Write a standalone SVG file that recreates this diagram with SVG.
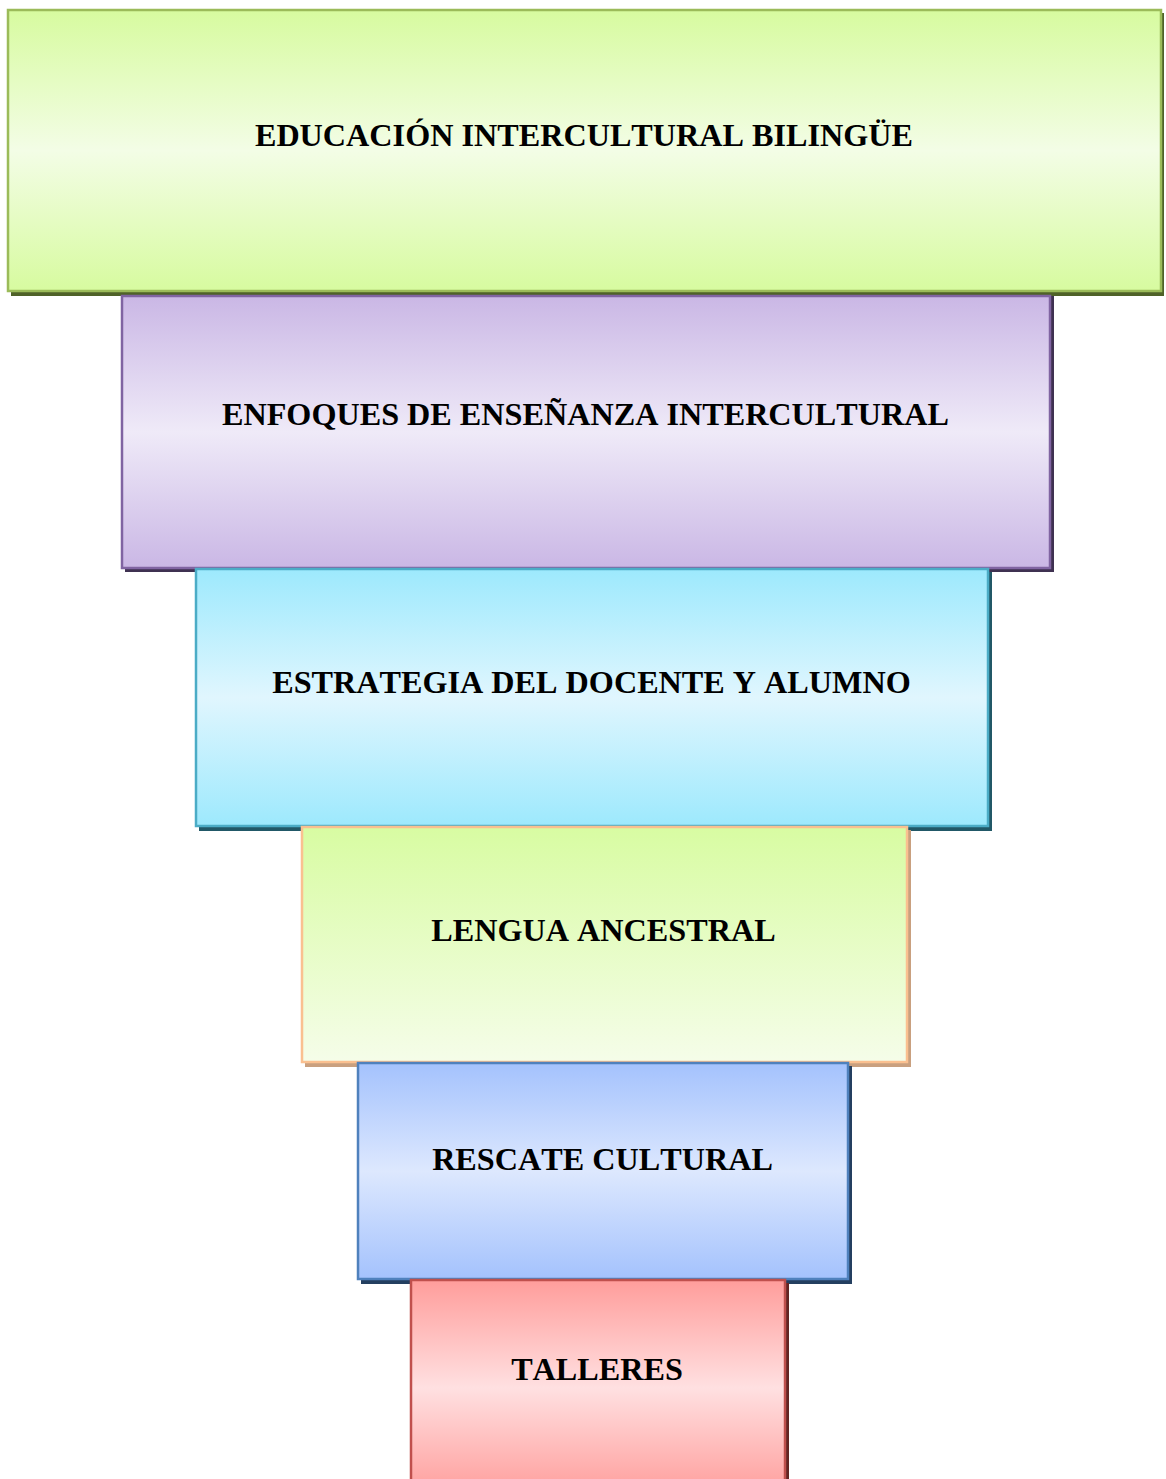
<svg xmlns="http://www.w3.org/2000/svg" width="1166" height="1479" viewBox="0 0 1166 1479">
<style>
.t{font-family:"Liberation Serif","Times New Roman",serif;font-weight:bold;font-size:32.2px;fill:#000;text-anchor:middle;font-kerning:none}
.b{stroke-width:2.5}
</style>
<defs>
<linearGradient id="g1" x1="0" y1="0" x2="0" y2="1"><stop offset="0" stop-color="#d7fb9f"/><stop offset="0.5" stop-color="#f3fde6"/><stop offset="1" stop-color="#d7fb9f"/></linearGradient>
<linearGradient id="g2" x1="0" y1="0" x2="0" y2="1"><stop offset="0" stop-color="#cab7e5"/><stop offset="0.5" stop-color="#efeaf8"/><stop offset="1" stop-color="#cab7e5"/></linearGradient>
<linearGradient id="g3" x1="0" y1="0" x2="0" y2="1"><stop offset="0" stop-color="#9de9fd"/><stop offset="0.5" stop-color="#e0f6fe"/><stop offset="1" stop-color="#9de9fd"/></linearGradient>
<linearGradient id="g4" x1="0" y1="0" x2="0" y2="1"><stop offset="0" stop-color="#d8fca2"/><stop offset="1" stop-color="#f5fde9"/></linearGradient>
<linearGradient id="g5" x1="0" y1="0" x2="0" y2="1"><stop offset="0" stop-color="#a4c2fd"/><stop offset="0.5" stop-color="#dde8fe"/><stop offset="1" stop-color="#a4c2fd"/></linearGradient>
<linearGradient id="g6" x1="0" y1="0" x2="0" y2="1"><stop offset="0" stop-color="#ff9d9b"/><stop offset="0.5" stop-color="#ffe0e1"/><stop offset="1" stop-color="#ff9d9b"/></linearGradient>
</defs>
<g id="connectors"></g>
<g id="node1">
<rect x="11" y="13" width="1153" height="283" fill="#4f6228"/>
<rect class="b" x="8" y="10" width="1153" height="281" fill="url(#g1)" stroke="#9bbb59"/>
<text class="t" x="584" y="146">EDUCACIÓN INTERCULTURAL BILINGÜE</text>
</g>
<g id="node2">
<rect x="125" y="296" width="929" height="276" fill="#3f3151"/>
<rect class="b" x="122" y="296" width="928" height="272" fill="url(#g2)" stroke="#8064a2"/>
<text class="t" x="585.5" y="425">ENFOQUES DE ENSEÑANZA INTERCULTURAL</text>
</g>
<g id="node3">
<rect x="199" y="572" width="793" height="259" fill="#215867"/>
<rect class="b" x="196" y="569" width="792" height="257" fill="url(#g3)" stroke="#4bacc6"/>
<text class="t" x="591.5" y="693">ESTRATEGIA DEL DOCENTE Y ALUMNO</text>
</g>
<g id="node4">
<rect x="305" y="830" width="606" height="237" fill="#c9a07f"/>
<rect class="b" x="302" y="827" width="605" height="235" fill="url(#g4)" stroke="#fac090"/>
<text class="t" x="603.5" y="941">LENGUA ANCESTRAL</text>
</g>
<g id="node5">
<rect x="361" y="1066" width="491" height="218" fill="#243f60"/>
<rect class="b" x="358" y="1063" width="490" height="216" fill="url(#g5)" stroke="#4f81bd"/>
<text class="t" x="602.5" y="1170">RESCATE CULTURAL</text>
</g>
<g id="node6">
<rect x="414" y="1283" width="375" height="220" fill="#632523"/>
<rect class="b" x="411" y="1280" width="374" height="216" fill="url(#g6)" stroke="#c0504d"/>
<text class="t" x="597" y="1380">TALLERES</text>
</g>
</svg>
